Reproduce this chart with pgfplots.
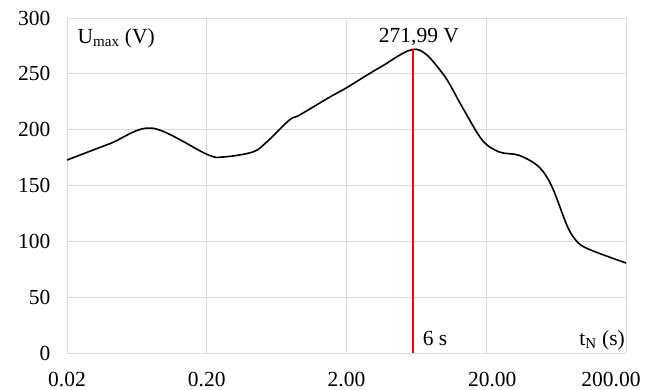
\documentclass[border=0pt]{standalone}
\usepackage{fontspec}
\setmainfont{Liberation Serif}
\usepackage{pgfplots}
\pgfplotsset{compat=1.18}
\definecolor{gridgray}{HTML}{D9D9D9}
\newcommand{\fs}{\fontsize{21.5}{25}\selectfont}
\begin{document}
\begin{tikzpicture}
\path (0,0) rectangle (652pt,390pt);
\begin{axis}[
  at={(67pt,37pt)}, anchor=south west,
  scale only axis, width=559pt, height=335pt,
  xmode=log, xmin=0.02, xmax=200,
  ymin=0, ymax=300,
  xtick={0.02,0.2,2,20,200},
  xticklabels={0.02,0.20,2.00,\makebox[0pt]{\hspace*{12pt}20.00},\makebox[0pt]{\hspace*{-30pt}200.00}},
  xminorticks=false,
  ytick={0,50,100,150,200,250,300},
  /pgf/number format/assume math mode=true,
  tick label style={font=\fs, text=black},
  xticklabel style={inner sep=0pt, yshift=-19pt},
  yticklabel style={xshift=-13pt},
  grid=major, major grid style={gridgray, line width=0.8pt},
  axis line style={gridgray, line width=0.8pt},
  major tick length=0pt,
  axis x line*=bottom, axis y line*=left,
  clip=false,
]
\addplot[black, line width=1.6pt, smooth, tension=0.55] coordinates {
(0.02,172.8) (0.0406,187.5) (0.081,201.4) (0.2,178) (0.26,175.5)
(0.427,180) (0.537,189) (0.78,208.6) (0.92,213) (1.51,229) (2,237.5)
(3.5,256) (6.3,272) (9.7,250.7) (13.5,220) (18.7,190.7) (24.8,180)
(34.4,177) (47.8,166.5) (59.2,148.6) (74.6,116) (85,103) (103.6,94) (200,80.6)
};
\addplot[red, line width=1.6pt] coordinates {(6,0) (6,271.99)};
\node[anchor=base west, font=\fs] at (axis cs:0.0225,277) {U\textsubscript{max} (V)};
\node[anchor=base, font=\fs] at (axis cs:6.6,278) {271,99 V};
\node[anchor=base west, font=\fs] at (axis cs:6.64,7) {6 s};
\node[anchor=base east, font=\fs, inner sep=1pt] at (axis cs:200,7) {t\textsubscript{N} (s)};
\end{axis}
\end{tikzpicture}
\end{document}
